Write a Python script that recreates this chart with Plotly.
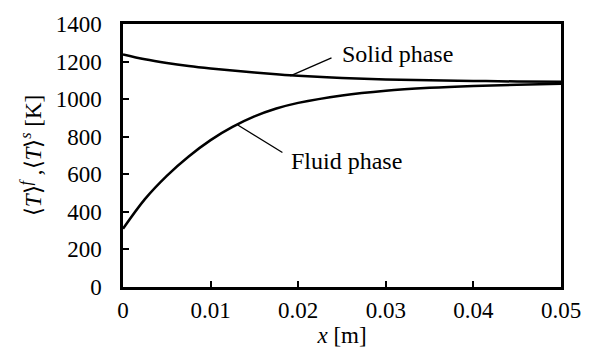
import plotly.graph_objects as go

x_vals = [0, 0.0025, 0.005, 0.0075, 0.01, 0.0125, 0.015, 0.0175, 0.02, 0.025, 0.03, 0.035, 0.04, 0.045, 0.05]
solid_T = [1238, 1212, 1192, 1176, 1163, 1152, 1142, 1133, 1125, 1113, 1105, 1100, 1097, 1094, 1092]
fluid_T = [310, 468, 592, 695, 782, 852, 908, 950, 980, 1020, 1045, 1060, 1070, 1077, 1082]

x_ticks = [0, 0.01, 0.02, 0.03, 0.04, 0.05]
x_ticktext = ["0", "0.01", "0.02", "0.03", "0.04", "0.05"]
y_ticks = [0, 200, 400, 600, 800, 1000, 1200, 1400]

FONT = "Liberation Serif"
F = dict(family=FONT, size=23, color="black")
FA = dict(family=FONT, size=24, color="black")

fig = go.Figure()
fig.add_trace(go.Scatter(x=x_vals, y=solid_T, mode="lines", line=dict(color="black", width=2.5, shape="spline"), name="Solid phase"))
fig.add_trace(go.Scatter(x=x_vals, y=fluid_T, mode="lines", line=dict(color="black", width=2.5, shape="spline"), name="Fluid phase"))

# leader lines
fig.add_shape(type="line", x0=0.0191, y0=1124, x1=0.0238, y1=1220, line=dict(color="black", width=1.3))
fig.add_shape(type="line", x0=0.0131, y0=862, x1=0.0182, y1=716, line=dict(color="black", width=1.3))

fig.add_annotation(x=0.0248, y=1241, text="Solid phase", showarrow=False, xanchor="left", yanchor="middle", font=FA)
fig.add_annotation(x=0.0189, y=673, text="Fluid phase", showarrow=False, xanchor="left", yanchor="middle", font=FA)

fig.update_layout(
    width=593, height=356,
    margin=dict(l=123, r=29, t=17, b=69),
    paper_bgcolor="white", plot_bgcolor="white",
    showlegend=False,
    font=F,
)
fig.update_xaxes(
    range=[0, 0.05], tickvals=x_ticks, ticktext=x_ticktext,
    ticks="inside", ticklen=6, tickwidth=2, tickcolor="black",
    showline=True, linewidth=2.5, linecolor="black", mirror=True,
    showgrid=False, zeroline=False, tickfont=F,
    title=dict(text="<i>x</i> [m]", font=F, standoff=0),
    ticklabelstandoff=1,
)
fig.update_yaxes(
    range=[0, 1400], tickvals=y_ticks,
    ticks="inside", ticklen=6, tickwidth=2, tickcolor="black",
    showline=True, linewidth=2.5, linecolor="black", mirror=True,
    showgrid=False, zeroline=False, tickfont=F,
    title=dict(text="⟨<i>T</i>⟩<sup><i>f</i></sup> ,⟨<i>T</i>⟩<sup><i>s</i></sup> [K]", font=F, standoff=8),
    ticklabelstandoff=14,
)

fig.write_html("out.html")
